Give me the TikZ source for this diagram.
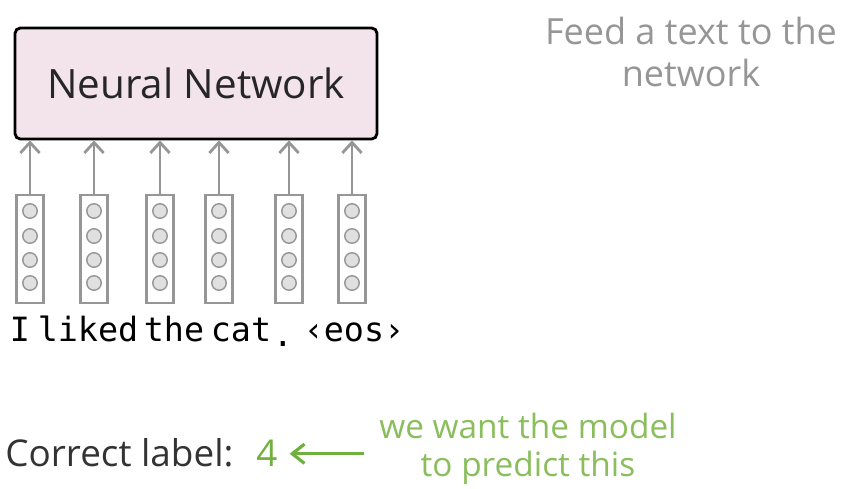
\documentclass[tikz,border=0pt]{standalone}
\usepackage{fontspec}
\setmainfont{Open Sans}
\newfontfamily\handfont{DejaVu Sans Mono}
\usetikzlibrary{arrows.meta, positioning}
\definecolor{nnpink}{RGB}{243,228,236}
\definecolor{vecgray}{RGB}{150,150,150}
\definecolor{dotgray}{RGB}{224,224,224}
\definecolor{notegray}{RGB}{150,150,150}
\definecolor{labelgreen}{RGB}{112,176,60}
\definecolor{notegreen}{RGB}{138,190,92}

\begin{document}
\begin{tikzpicture}[
  x=0.02cm, y=-0.02cm,
  network/.style={rectangle, rounded corners=3pt, draw=black, line width=1.6pt, fill=nnpink, minimum width=7.24cm, minimum height=2.22cm, text=black!85, font=\fontsize{23}{27}\selectfont},
  vector/.style={rectangle, draw=vecgray, line width=1.4pt, fill=white, minimum width=0.54cm, minimum height=2.16cm, inner sep=0pt},
  dot/.style={circle, draw=vecgray, fill=dotgray, line width=0.8pt, minimum size=0.29cm, inner sep=0pt},
  word/.style={anchor=base, inner sep=0pt, font=\handfont\fontsize{19}{24}\selectfont},
  note/.style={align=center, inner sep=0pt, font=\fontsize{20.5}{24}\selectfont},
  feed/.style={draw=vecgray, line width=1.6pt, -{Straight Barb[length=6pt, width=11pt]}},
  pointer/.style={draw=labelgreen, line width=1.8pt, -{Straight Barb[length=7pt, width=11pt]}}
]
  \path[use as bounding box] (0,0) rectangle (843,489);

  \node [network] (nn) at (196,83.5) {Neural Network};

  % one vector per token
  \foreach \i/\x in {1/30, 2/94, 3/160, 4/219, 5/289, 6/352} {
    \node [vector] (v\i) at (\x,249) {};
    \foreach \j/\dy in {1/-38, 2/-13, 3/11, 4/34}
      \node [dot] (d\i-\j) at ([yshift=-\dy*0.02cm]v\i.center) {};
    \draw [feed] (v\i.north) -- (v\i.north |- nn.south);
  }

  \node [word] (w1) at (20,342) {I};
  \node [word] (w2) at (88,342) {liked};
  \node [word] (w3) at (174,342) {the};
  \node [word] (w4) at (241,342) {cat};
  \node [word] (w5) at (283,347) {.};
  \node [word] (w6) at (354,342) {‹eos›};

  \node [note, text=notegray] (task) at (691,52) {Feed a text to the\\network};

  \node [anchor=base west, inner sep=0pt, text=black!80, font=\fontsize{21}{24}\selectfont] (correct) at (5,467) {Correct label:};
  \node [anchor=base, inner sep=1pt, text=labelgreen, font=\fontsize{21}{24}\selectfont] (four) at (267,467) {4};
  \node [note, text=notegreen, font=\fontsize{19}{22}\selectfont] (want) at (528,449) {we want the model\\to predict this};
  \draw [pointer] ([xshift=-0.3cm]want.west |- four.east) -- ([xshift=0.2cm]four.east);
\end{tikzpicture}
\end{document}
